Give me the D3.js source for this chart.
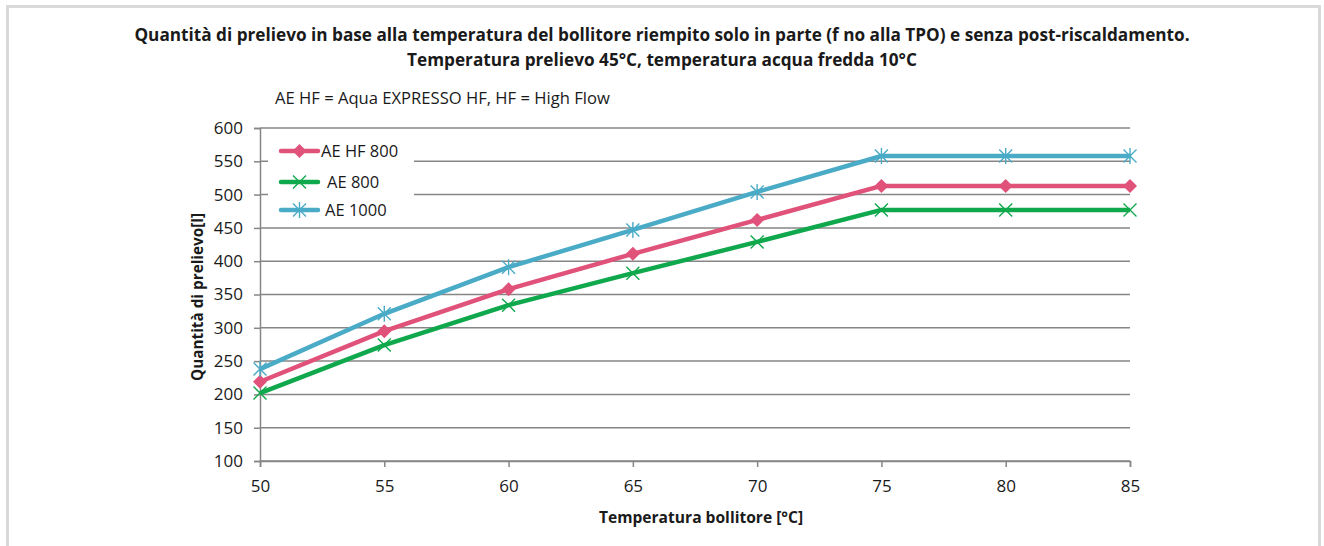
<!DOCTYPE html>
<html><head><meta charset="utf-8">
<script src="https://cdn.jsdelivr.net/npm/d3@7"></script>
<style>body{margin:0;background:#fff}svg{display:block}text{font-family:"Open Sans",sans-serif;fill:#1a1a1a}</style>
</head><body><svg id="c" width="1324" height="546"></svg>
<script>
const temps = [50, 55, 60, 65, 70, 75, 80, 85];
const aeHf800 = [219, 295, 358, 411, 462, 513, 513, 513];
const ae800 = [202, 274, 334, 382, 429, 477, 477, 477];
const ae1000 = [238, 321, 391, 447, 504, 558, 558, 558];
const yTicks = [100, 150, 200, 250, 300, 350, 400, 450, 500, 550, 600];
const seriesNames = ["AE HF 800", "AE 800", "AE 1000"];
const titleLines = ["Quantità di prelievo in base alla temperatura del bollitore riempito solo in parte (f no alla TPO) e senza post-riscaldamento.", "Temperatura prelievo 45°C, temperatura acqua fredda 10°C"];

const series = [
  {name: seriesNames[0], values: aeHf800, color: "#e0527a", marker: "diamond"},
  {name: seriesNames[1], values: ae800, color: "#10a84c", marker: "x"},
  {name: seriesNames[2], values: ae1000, color: "#4aabc7", marker: "star"}
];

const svg = d3.select("#c");
svg.append("path").attr("d","M7.5,560 V6.5 H1319.5 V560").attr("fill","none").attr("stroke","#d9d9d9").attr("stroke-width",3);

const x = d3.scaleLinear().domain([50,85]).range([260,1130]);
const y = d3.scaleLinear().domain([100,600]).range([461,128]);

svg.append("g").selectAll("line").data(yTicks).join("line")
  .attr("x1",260).attr("x2",1130).attr("y1",d=>y(d)).attr("y2",d=>y(d))
  .attr("stroke","#868686").attr("stroke-width",1.5);

const yAxis = svg.append("g").attr("transform","translate(260,0)")
  .call(d3.axisLeft(y).tickValues(yTicks).tickSize(6).tickPadding(11).tickFormat(d3.format("d")));
const xAxis = svg.append("g").attr("transform","translate(0,461)")
  .call(d3.axisBottom(x).tickValues(temps).tickSize(6).tickPadding(13).tickFormat(d3.format("d")));
[yAxis,xAxis].forEach(a=>{
  a.select(".domain").attr("stroke","#868686").attr("stroke-width",1.5);
  a.selectAll(".tick line").attr("stroke","#868686").attr("stroke-width",1.5);
  a.selectAll(".tick text").style("font-size","17px").attr("fill","#1a1a1a");
});

const legend = svg.append("g");
legend.append("rect").attr("x",268).attr("y",137).attr("width",146).attr("height",88).attr("fill","#fff");

const line = d3.line().x((d,i)=>x(temps[i])).y(d=>y(d));
function marker(g, type, color, cx, cy){
  if(type==="diamond"){
    g.append("path").attr("d",`M${cx},${cy-7}L${cx+7},${cy}L${cx},${cy+7}L${cx-7},${cy}Z`).attr("fill",color);
  } else {
    const r=6.5;
    g.append("path").attr("d",`M${cx-r},${cy-r}L${cx+r},${cy+r}M${cx-r},${cy+r}L${cx+r},${cy-r}`+(type==="star"?`M${cx},${cy-r-1.5}L${cx},${cy+r+1.5}`:""))
      .attr("stroke",color).attr("stroke-width",1.4).attr("fill","none");
  }
}
series.forEach(s=>{
  svg.append("path").datum(s.values).attr("d",line).attr("fill","none").attr("stroke",s.color).attr("stroke-width",4.5).attr("stroke-linejoin","round");
  const mg = svg.append("g");
  s.values.forEach((v,i)=>marker(mg,s.marker,s.color,x(temps[i]),y(v)));
});

const legY = [151, 182, 210];
const legTx = [321, 327, 325];
series.forEach((s,i)=>{
  legend.append("line").attr("x1",281).attr("x2",318).attr("y1",legY[i]).attr("y2",legY[i])
    .attr("stroke",s.color).attr("stroke-width",4.5).attr("stroke-linecap","round");
  marker(legend,s.marker,s.color,299.5,legY[i]);
  legend.append("text").attr("x",legTx[i]).attr("y",legY[i]).attr("dy","0.35em").style("font-size","16.5px").text(s.name);
});

svg.append("text").attr("x",662).attr("y",41).attr("text-anchor","middle").style("font-size","17.2px").style("font-weight","bold").text(titleLines[0]);
svg.append("text").attr("x",662).attr("y",66).attr("text-anchor","middle").style("font-size","17.2px").style("font-weight","bold").text(titleLines[1]);
svg.append("text").attr("x",275).attr("y",104).style("font-size","16.6px").text("AE HF = Aqua EXPRESSO HF, HF = High Flow");
svg.append("text").attr("transform","translate(203,297) rotate(-90)").attr("text-anchor","middle").style("font-size","15.3px").style("font-weight","bold").text("Quantità di prelievo[l]");
svg.append("text").attr("x",701).attr("y",523).attr("text-anchor","middle").style("font-size","15.6px").style("font-weight","bold").text("Temperatura bollitore [°C]");
</script></body></html>
